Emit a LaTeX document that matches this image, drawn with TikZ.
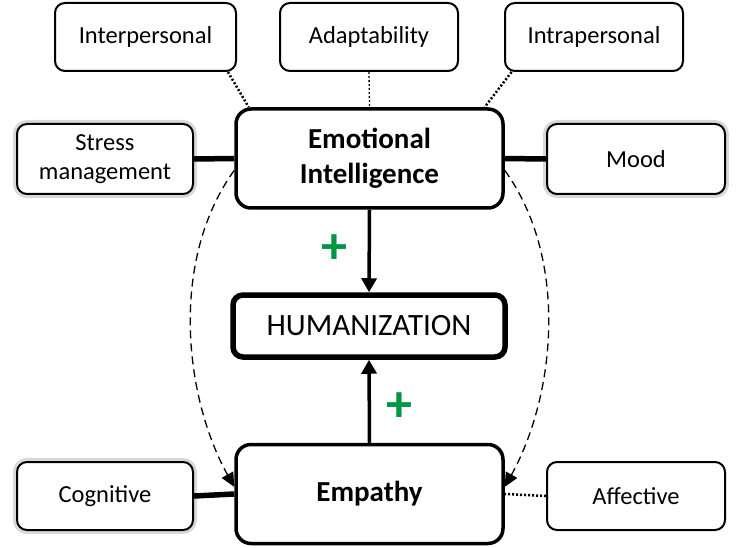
\documentclass[tikz,border=0pt]{standalone}
\usepackage{fontspec}
\setmainfont{Carlito}
\usetikzlibrary{arrows.meta}
\definecolor{plusgreen}{RGB}{0,150,70}

\begin{document}
\begin{tikzpicture}[x=1pt,y=-1pt,
    box/.style={draw, fill=white, line width=2pt, rounded corners=10pt, align=center,
        inner sep=0pt, font=\fontsize{24.5}{29}\selectfont},
    mainbox/.style={draw, fill=white, line width=3.5pt, rounded corners=15pt, align=center,
        inner sep=0pt, minimum width=267pt, minimum height=99pt,
        font=\bfseries\fontsize{29}{35}\selectfont},
    glow/.style={preaction={draw=black!15, line width=8pt}},
    link/.style={line width=5.5pt},
    dots/.style={line width=2.5pt, dash pattern=on 2pt off 2pt},
    effect/.style={line width=3.5pt, -{Triangle[length=14pt,width=15pt]}},
    feedback/.style={line width=1.3pt, dash pattern=on 8pt off 5pt, -{Triangle[length=14pt,width=13pt]}},
    plus/.style={text=plusgreen, font=\bfseries\fontsize{52}{52}\selectfont}]
    \useasboundingbox (0,0) rectangle (739,548);

    % components of emotional intelligence
    \node[box, minimum width=181pt, minimum height=68pt] (inter) at (145.5,37) {Interpersonal};
    \node[box, minimum width=178pt, minimum height=68pt] (adapt) at (369,37) {Adaptability};
    \node[box, minimum width=178pt, minimum height=68pt] (intra) at (594,37) {Intrapersonal};
    \node[box, glow, minimum width=176pt, minimum height=70pt] (stress) at (105,159) {Stress\\management};
    \node[box, glow, minimum width=178pt, minimum height=70pt] (mood) at (636,159) {Mood};

    \node[mainbox] (ei) at (369.5,158.5) {Emotional\\Intelligence};
    \node[draw, fill=white, line width=5.5pt, rounded corners=10pt, minimum width=272pt,
        minimum height=62pt, font=\fontsize{31}{31}\selectfont] (human) at (369,326) {HUMANIZATION};
    \node[mainbox] (emp) at (369.5,494) {Empathy};

    % components of empathy
    \node[box, glow, minimum width=176pt, minimum height=68pt] (cog) at (105,496) {Cognitive};
    \node[box, minimum width=178pt, minimum height=68pt] (aff) at (636,496) {Affective};

    \draw[dots] (inter.-23) -- (ei.157);
    \draw[dots, line width=1.3pt] (adapt.south) -- (ei.north);
    \draw[dots] (intra.-157) -- (ei.24);
    \draw[link] (stress.east) -- (ei.west);
    \draw[link] (ei.east) -- (mood.west);
    \draw[link] (cog.east) -- (emp.west);
    \draw[dots] (aff.west) -- (emp.east);

    \draw[effect] (ei.south) -- (human.north);
    \draw[effect] (emp.north) -- (human.south);

    \draw[feedback] (ei.185) .. controls +(-65,90) and +(-50,-90) .. (emp.177);
    \draw[feedback] (ei.-5) .. controls +(65,90) and +(50,-90) .. (emp.3);

    \node[plus] (plusei) at (334,249) {+};
    \node[plus] (plusemp) at (399,407) {+};
\end{tikzpicture}
\end{document}
